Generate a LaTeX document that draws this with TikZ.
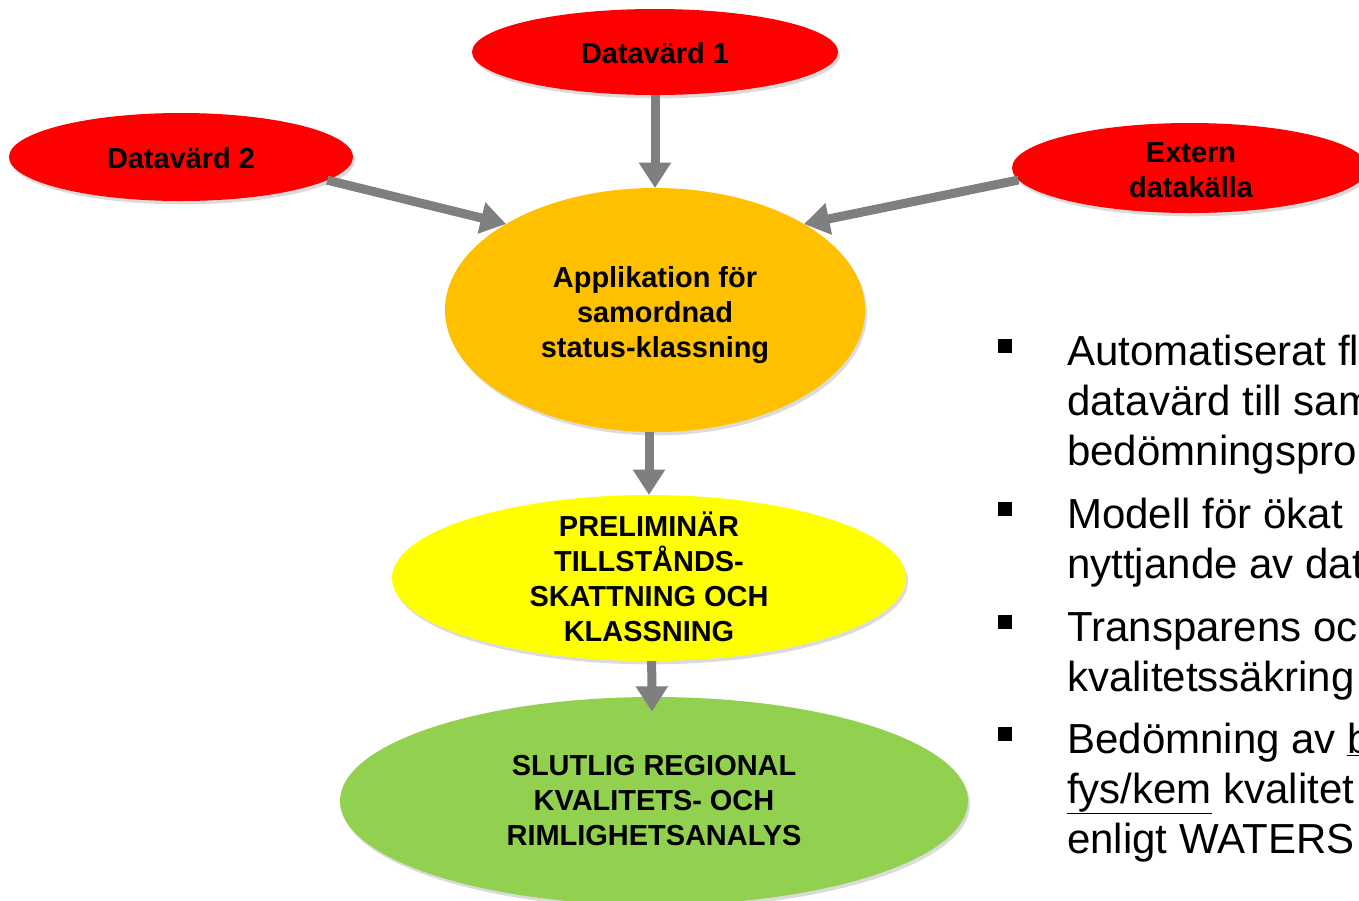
\documentclass[tikz,border=0pt]{standalone}
\usepackage{fontspec}
\setmainfont{Liberation Sans}
\usetikzlibrary{shapes.geometric,arrows.meta,shadows}
\definecolor{arrowgray}{HTML}{7F7F7F}
\definecolor{dred}{HTML}{FF0000}
\definecolor{dorange}{HTML}{FFC000}
\definecolor{dyellow}{HTML}{FFFF00}
\definecolor{dgreen}{HTML}{92D050}
\begin{document}
\begin{tikzpicture}[x=0.75pt,y=-0.75pt,
  blob/.style={ellipse, inner sep=0pt, outer sep=0pt, draw=none,
    drop shadow={opacity=0.28, shadow xshift=1.5pt, shadow yshift=-2.5pt}},
  lbl/.style={align=center, inner sep=0pt, font=\fontsize{21.7}{26.25}\selectfont\bfseries},
  arr/.style={draw=arrowgray, line width=6.75pt, -{Triangle[width=23pt,length=19pt]}},
  bul/.style={fill=black, minimum size=10.5pt, inner sep=0pt},
  btxt/.style={anchor=base west, inner sep=0pt, font=\fontsize{31.5}{37.5}\selectfont}
]
\clip (0,0) rectangle (1359,900);
\fill[white] (0,0) rectangle (1359,900);

% ellipses
\node[blob, fill=dred, minimum width=274.5pt, minimum height=64.5pt] (d1) at (655,52) {};
\node[blob, fill=dred, minimum width=258pt, minimum height=66pt] (d2) at (181,157) {};
\node[blob, fill=dred, minimum width=267pt, minimum height=67.5pt] (ext) at (1190,168) {};
\node[blob, fill=dorange, minimum width=315pt, minimum height=183pt] (app) at (655,310) {};
\node[blob, fill=dyellow, minimum width=385.5pt, minimum height=124.5pt] (pre) at (649,578) {};
\node[blob, fill=dgreen, minimum width=471pt, minimum height=156pt] (slut) at (654,801) {};

% labels
\node[lbl] (d1t) at (655,53) {Datavärd 1};
\node[lbl] (d2t) at (181,158) {Datavärd 2};
\node[lbl] (extt) at (1191,170) {Extern\\datakälla};
\node[lbl] (appt) at (655,315) {Applikation för\\samordnad\\status-klassning};
\node[lbl] (pret) at (649,577) {PRELIMINÄR\\TILLSTÅNDS-\\SKATTNING OCH\\KLASSNING};
\node[lbl] (slutt) at (654,801) {SLUTLIG REGIONAL\\KVALITETS- OCH\\RIMLIGHETSANALYS};

% arrows
\draw[arr] (d1.south) -- (app.north);
\draw[arr] (d2.-9) -- (app.150);
\draw[arr] (ext.184) -- (app.30);
\draw[arr] (pre.north |- app.south) -- (pre.north);
\draw[arr] ([xshift=2pt]pre.south) -- ([xshift=-1.5pt,yshift=-11pt]slut.north);

% bullet list
\node[bul] (b1) at (1005,346) {};
\node[btxt] (t1a) at (1067,365) {Automatiserat fl};
\node[btxt] (t1b) at (1067,415) {datavärd till sam};
\node[btxt] (t1c) at (1067,465) {bedömningspro};
\node[bul] (b2) at (1005,509) {};
\node[btxt] (t2a) at (1067,528) {Modell för ökat};
\node[btxt] (t2b) at (1067,578) {nyttjande av dat};
\node[bul] (b3) at (1005,622) {};
\node[btxt] (t3a) at (1067,641) {Transparens oc};
\node[btxt] (t3b) at (1067,691) {kvalitetssäkring};
\node[bul] (b4) at (1005,734) {};
\node[btxt] (t4a) at (1067,753) {Bedömning av \underline{b}};
\node[btxt] (t4b) at (1067,803) {\underline{fys/kem} kvalitet};
\node[btxt] (t4c) at (1067,853) {enligt WATERS};
\end{tikzpicture}
\end{document}
